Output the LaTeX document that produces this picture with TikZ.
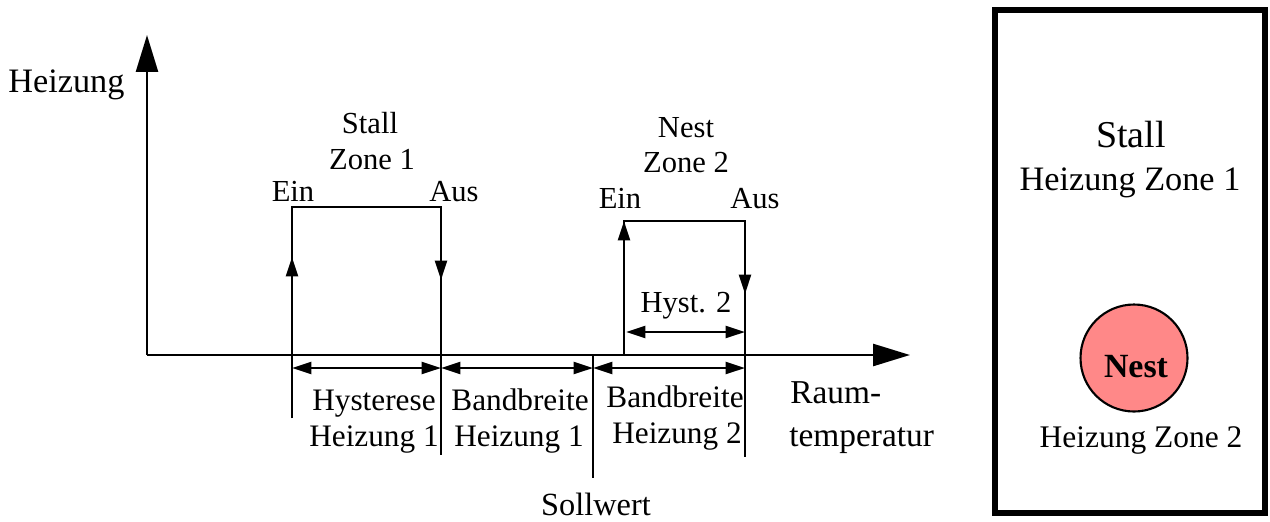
\documentclass[tikz,border=0pt]{standalone}
\usepackage{fontspec}
\setmainfont{Liberation Serif}
\usetikzlibrary{arrows.meta}
\begin{document}
\begin{tikzpicture}[x=0.02cm,y=-0.02cm,
  ln/.style={line width=1.4pt},
  big/.style={ln,-{Triangle[length=21pt,width=12.5pt]}},
  sm/.style={ln,-{Triangle[length=11pt,width=6.8pt]}},
  dim/.style={ln,{Triangle[length=11pt,width=6.8pt]}-{Triangle[length=11pt,width=6.8pt]}},
  lbl/.style={anchor=base,inner sep=0pt,font=\fontsize{17.4}{20}\selectfont},
  lbld/.style={anchor=base,inner sep=0pt,font=\fontsize{17.8}{20}\selectfont},
  lblr/.style={anchor=base,inner sep=0pt,font=\fontsize{19.5}{22}\selectfont}]
\useasboundingbox (0,0) rectangle (1270,521);
% coordinates
\coordinate (O) at (147,355);
\coordinate (Ytip) at (147,35);
\coordinate (Xtip) at (910,355);
\coordinate (s1b) at (292,418);
\coordinate (s1a) at (292,257);
\coordinate (s1t) at (292,207);
\coordinate (s2t) at (441,207);
\coordinate (s2a) at (441,280);
\coordinate (s2b) at (441,455);
\coordinate (sw1) at (593,355);
\coordinate (sw2) at (593,478);
\coordinate (n1b) at (624,355);
\coordinate (n1t) at (624,221);
\coordinate (n2t) at (745,221);
\coordinate (n2a) at (745,294);
\coordinate (n2b) at (745,457);
\coordinate (d1) at (292,368);
\coordinate (d2) at (441,368);
\coordinate (d3) at (593,368);
\coordinate (d4) at (745,368);
\coordinate (h1) at (626,332);
\coordinate (h2) at (745,332);
% axes
\draw[big] (O) -- (Ytip);
\draw[big] (O) -- (Xtip);
% stall zone 1
\draw[ln] (s1b) -- (s1t) -- (s2t) -- (s2b);
\draw[sm] (s1b) -- (s1a);
\draw[sm] (s2t) -- (s2a);
% sollwert
\draw[ln] (sw1) -- (sw2);
% nest zone 2
\draw[ln] (n1b) -- (n1t) -- (n2t) -- (n2b);
\draw[sm] (n1b) -- (n1t);
\draw[sm] (n2t) -- (n2a);
% dimensions
\draw[dim] (d1) -- (d2);
\draw[dim] (d2) -- (d3);
\draw[dim] (d3) -- (d4);
\draw[dim] (h1) -- (h2);
% labels
\node[lblr,anchor=base west] (heiz) at (8,92) {Heizung};
\node[lbl] (st) at (370,133) {Stall};
\node[lbl] (z1) at (372,169) {Zone 1};
\node[lbl] (ein1) at (293,201) {Ein};
\node[lbl] (aus1) at (454,201) {Aus};
\node[lbl] (ne) at (686,137) {Nest};
\node[lbl] (z2) at (686,172) {Zone 2};
\node[lbl] (ein2) at (620,208) {Ein};
\node[lbl] (aus2) at (755,208) {Aus};
\node[lbl] (hy2) at (686,312) {Hyst. 2};
\node[lbld] (hys) at (374,410) {Hysterese};
\node[lbld] (hz1) at (374,446) {Heizung 1};
\node[lbld] (bb1) at (520,410) {Bandbreite};
\node[lbld] (hz1b) at (519,446) {Heizung 1};
\node[lbld] (bb2) at (675,407) {Bandbreite};
\node[lbld] (hz2) at (677,443) {Heizung 2};
\node[anchor=base west,inner sep=0pt,font=\fontsize{19}{22}\selectfont] (raum) at (790,403) {Raum-};
\node[anchor=base west,inner sep=0pt,font=\fontsize{19}{22}\selectfont] (temp) at (789,446) {temperatur};
\node[anchor=base,inner sep=0pt,font=\fontsize{18.4}{21}\selectfont] (soll) at (596,515) {Sollwert};
% right panel
\draw[line width=2.9pt] (995,10) rectangle (1265,513);
\node[anchor=base,inner sep=0pt,font=\fontsize{21.6}{24}\selectfont] (rst) at (1131,147) {Stall};
\node[lblr] (rhz1) at (1130,190) {Heizung Zone 1};
\node[circle,draw,line width=1.2pt,fill={rgb,255:red,255;green,136;blue,136},minimum size=107*0.02cm,inner sep=0pt] (nest) at (1134,358) {};
\node[anchor=base,inner sep=0pt,font=\fontsize{19.3}{22}\selectfont\bfseries] (rne) at (1136,377) {Nest};
\node[anchor=base,inner sep=0pt,font=\fontsize{17.9}{20}\selectfont] (rhz2) at (1141,447) {Heizung Zone 2};
\end{tikzpicture}
\end{document}
